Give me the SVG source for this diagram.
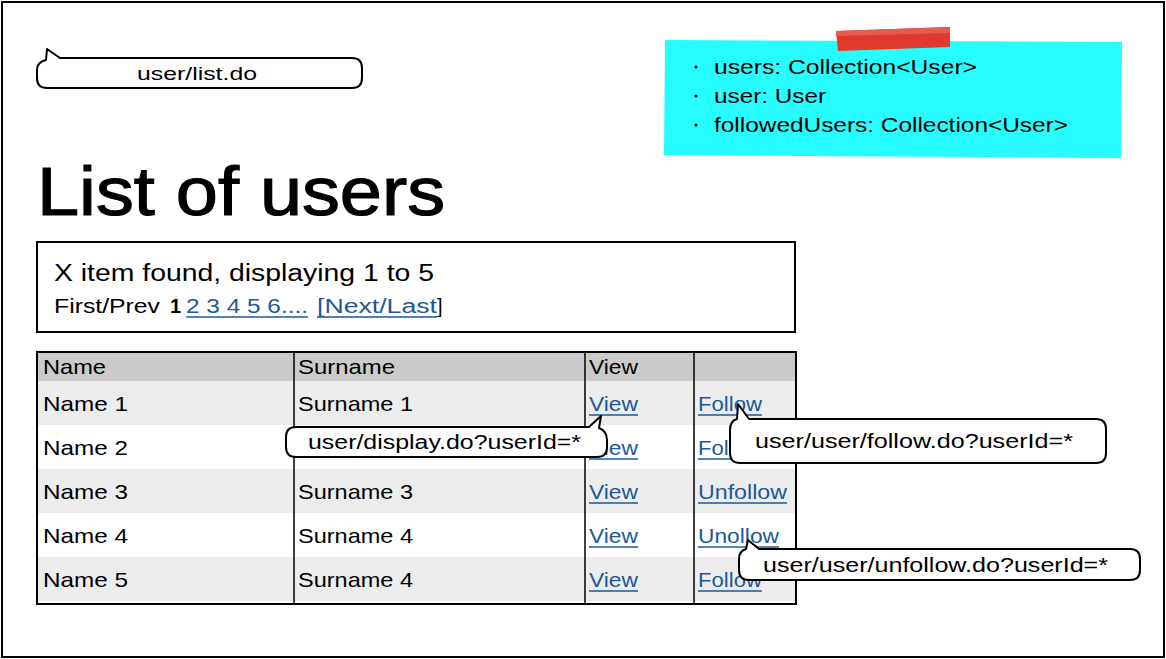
<svg xmlns="http://www.w3.org/2000/svg" width="1166" height="659" viewBox="0 0 1166 659">
<style>
text{font-family:"Liberation Sans",Arial,sans-serif;fill:#000}
.t{font-size:21px}
.lk{fill:#1d5898}
.ul{stroke:#1d5898;stroke-width:1.5}
.bub{fill:#fff;stroke:#000;stroke-width:2;stroke-linejoin:round}
.grid{stroke:#000;stroke-width:1.5}
</style>
<rect x="2" y="2" width="1162" height="655" fill="#fff" stroke="#000" stroke-width="2"/>

<g id="callout-list">
<path class="bub" d="M60,58 L352,58 Q362,58 362,68 L362,78 Q362,88 352,88 L47,88 Q37,88 37,78 L37,70 Q37,62 46,60 L47,49 L60,58 Z"/>
<text x="137" y="80" font-size="19" textLength="120" lengthAdjust="spacingAndGlyphs">user/list.do</text>
</g>

<g id="sticky-note">
<polygon points="665,40 1122,42 1121,158 664,155" fill="#27fdfe"/>
<polygon points="836,31 950,27 950,47 838,51" fill="#e0392e"/>
<polygon points="836,31 950,27 950,33 836,36" fill="#e85a50"/>
<circle cx="696" cy="67" r="1.6" fill="#000"/>
<text x="714" y="74" font-size="20" textLength="263" lengthAdjust="spacingAndGlyphs">users: Collection&lt;User&gt;</text>
<circle cx="696" cy="96" r="1.6" fill="#000"/>
<text x="714" y="103" font-size="20" textLength="112" lengthAdjust="spacingAndGlyphs">user: User</text>
<circle cx="696" cy="125" r="1.6" fill="#000"/>
<text x="714" y="132" font-size="20" textLength="354" lengthAdjust="spacingAndGlyphs">followedUsers: Collection&lt;User&gt;</text>
</g>

<g id="title">
<text x="37" y="215" font-size="68" stroke="#000" stroke-width="1.2" textLength="408" lengthAdjust="spacingAndGlyphs">List of users</text>
</g>

<g id="pager">
<rect x="37" y="242" width="758" height="90" fill="#fff" stroke="#000" stroke-width="2"/>
<text x="54" y="281" font-size="23" textLength="380" lengthAdjust="spacingAndGlyphs">X item found, displaying 1 to 5</text>
<text x="54" y="313" font-size="20" textLength="106" lengthAdjust="spacingAndGlyphs">First/Prev</text>
<text x="170" y="313" font-size="20" font-weight="bold">1</text>
<text class="lk" x="186" y="313" font-size="20" textLength="122" lengthAdjust="spacingAndGlyphs">2 3 4 5 6....</text>
<line class="ul" x1="186" y1="317" x2="308" y2="317"/>
<text class="lk" x="317" y="313" font-size="20" textLength="120" lengthAdjust="spacingAndGlyphs">[Next/Last</text>
<line class="ul" x1="317" y1="317" x2="437" y2="317"/>
<text x="437" y="313" font-size="20">]</text>
</g>

<g id="table">
<rect x="37" y="352" width="759" height="252" fill="#fff"/>
<rect x="37" y="352" width="759" height="29" fill="#cbcbcb"/>
<rect x="37" y="381" width="759" height="44" fill="#ececec"/>
<rect x="37" y="469" width="759" height="44" fill="#ececec"/>
<rect x="37" y="557" width="759" height="44" fill="#ececec"/>
<line class="grid" x1="294" y1="352" x2="294" y2="604"/>
<line class="grid" x1="585" y1="352" x2="585" y2="604"/>
<line class="grid" x1="694" y1="352" x2="694" y2="604"/>
<rect x="37" y="352" width="759" height="252" fill="none" stroke="#000" stroke-width="2"/>
<text class="t" x="43" y="374" textLength="63" lengthAdjust="spacingAndGlyphs">Name</text>
<text class="t" x="298" y="374" textLength="97" lengthAdjust="spacingAndGlyphs">Surname</text>
<text class="t" x="589" y="374" textLength="49" lengthAdjust="spacingAndGlyphs">View</text>

<text class="t" x="43" y="411" textLength="85" lengthAdjust="spacingAndGlyphs">Name 1</text>
<text class="t" x="298" y="411" textLength="115" lengthAdjust="spacingAndGlyphs">Surname 1</text>
<text class="t lk" x="589" y="411" textLength="49" lengthAdjust="spacingAndGlyphs">View</text>
<line class="ul" x1="589" y1="415" x2="638" y2="415"/>
<text class="t lk" x="698" y="411" textLength="64" lengthAdjust="spacingAndGlyphs">Follow</text>
<line class="ul" x1="698" y1="415" x2="762" y2="415"/>

<text class="t" x="43" y="455" textLength="85" lengthAdjust="spacingAndGlyphs">Name 2</text>
<text class="t lk" x="589" y="455" textLength="49" lengthAdjust="spacingAndGlyphs">View</text>
<line class="ul" x1="589" y1="459" x2="638" y2="459"/>
<text class="t lk" x="698" y="455" textLength="64" lengthAdjust="spacingAndGlyphs">Follow</text>
<line class="ul" x1="698" y1="459" x2="762" y2="459"/>

<text class="t" x="43" y="499" textLength="85" lengthAdjust="spacingAndGlyphs">Name 3</text>
<text class="t" x="298" y="499" textLength="115" lengthAdjust="spacingAndGlyphs">Surname 3</text>
<text class="t lk" x="589" y="499" textLength="49" lengthAdjust="spacingAndGlyphs">View</text>
<line class="ul" x1="589" y1="503" x2="638" y2="503"/>
<text class="t lk" x="698" y="499" textLength="89" lengthAdjust="spacingAndGlyphs">Unfollow</text>
<line class="ul" x1="698" y1="503" x2="787" y2="503"/>

<text class="t" x="43" y="543" textLength="85" lengthAdjust="spacingAndGlyphs">Name 4</text>
<text class="t" x="298" y="543" textLength="115" lengthAdjust="spacingAndGlyphs">Surname 4</text>
<text class="t lk" x="589" y="543" textLength="49" lengthAdjust="spacingAndGlyphs">View</text>
<line class="ul" x1="589" y1="547" x2="638" y2="547"/>
<text class="t lk" x="698" y="543" textLength="81" lengthAdjust="spacingAndGlyphs">Unollow</text>
<line class="ul" x1="698" y1="547" x2="779" y2="547"/>

<text class="t" x="43" y="587" textLength="85" lengthAdjust="spacingAndGlyphs">Name 5</text>
<text class="t" x="298" y="587" textLength="115" lengthAdjust="spacingAndGlyphs">Surname 4</text>
<text class="t lk" x="589" y="587" textLength="49" lengthAdjust="spacingAndGlyphs">View</text>
<line class="ul" x1="589" y1="591" x2="638" y2="591"/>
<text class="t lk" x="698" y="587" textLength="64" lengthAdjust="spacingAndGlyphs">Follow</text>
<line class="ul" x1="698" y1="591" x2="762" y2="591"/>
</g>

<g id="callout-display">
<path class="bub" d="M296,427 L589,427 L601,416 L599,428 Q607,431 607,440 L607,447 Q607,457 597,457 L296,457 Q286,457 286,447 L286,437 Q286,427 296,427 Z"/>
<text x="308" y="449" font-size="20" textLength="273" lengthAdjust="spacingAndGlyphs">user/display.do?userId=*</text>
</g>

<g id="callout-follow">
<path class="bub" d="M749,419 L1096,419 Q1106,419 1106,429 L1106,453 Q1106,463 1096,463 L740,463 Q730,463 730,453 L730,430 Q730,421 737,419 L738,404 Z"/>
<text x="755" y="448" font-size="20" textLength="318" lengthAdjust="spacingAndGlyphs">user/user/follow.do?userId=*</text>
</g>

<g id="callout-unfollow">
<path class="bub" d="M759,549 L1130,549 Q1140,549 1140,559 L1140,570 Q1140,580 1130,580 L749,580 Q739,580 739,570 L739,559 Q739,551 746,549 L748,540 Z"/>
<text x="763" y="572" font-size="20" textLength="345" lengthAdjust="spacingAndGlyphs">user/user/unfollow.do?userId=*</text>
</g>
</svg>
